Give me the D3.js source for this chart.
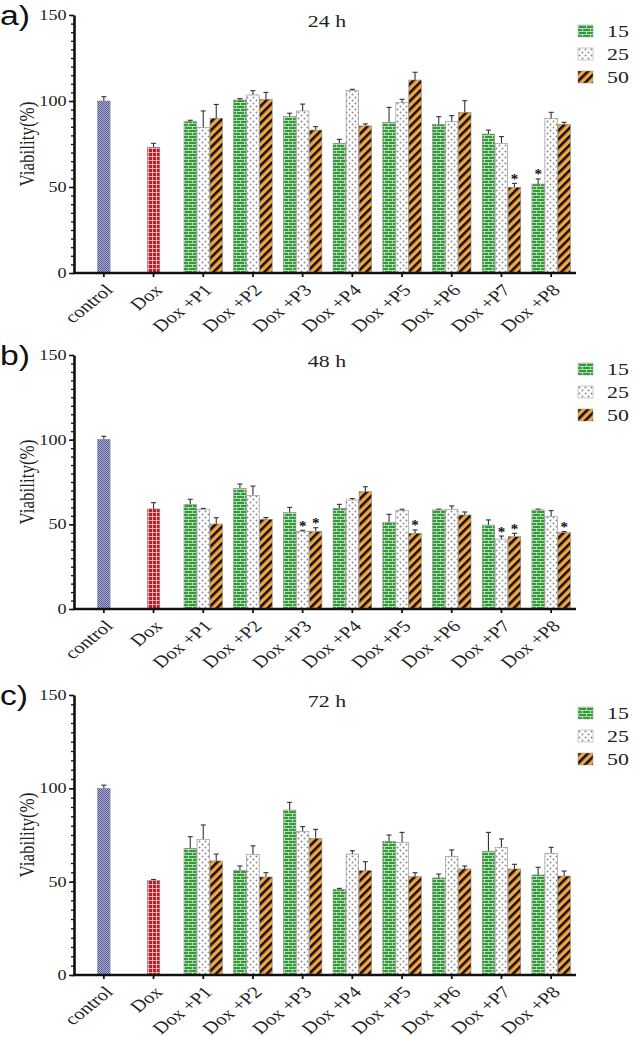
<!DOCTYPE html>
<html lang="en">
<head>
<meta charset="utf-8">
<title>viability</title>
<script src="https://cdn.jsdelivr.net/npm/d3@7"></script>
<style>
  body { margin: 0; background: #fff; }
  .axis path, .axis line { stroke: #111; }
</style>
</head>
<body>
<div id="chart"></div>
<script>

// categories and series
var categories = ["control", "Dox", "Dox +P1", "Dox +P2", "Dox +P3", "Dox +P4", "Dox +P5", "Dox +P6", "Dox +P7", "Dox +P8"];
var singles = ["control", "Dox"];
var groups = ["Dox +P1", "Dox +P2", "Dox +P3", "Dox +P4", "Dox +P5", "Dox +P6", "Dox +P7", "Dox +P8"];
var concentrations = ["15", "25", "50"];
var yTicks = [0, 50, 100, 150];

// 24 h
var single24 = [100, 73.1], single24Err = [2.5, 2.3];
var c15_24 = [88.0, 100.6, 90.9, 75.4, 87.6, 86.4, 80.8, 51.7];
var c15_24Err = [0.8, 0.8, 2.0, 2.3, 8.7, 4.5, 2.3, 3.0];
var c25_24 = [84.5, 103.5, 94.2, 106.0, 99.0, 88.0, 75.4, 89.9];
var c25_24Err = [9.7, 2.5, 4.0, 0.8, 2.0, 3.5, 3.9, 3.5];
var c50_24 = [90.0, 101.0, 83.1, 85.5, 112.2, 93.4, 49.8, 86.4];
var c50_24Err = [8.0, 4.0, 2.0, 1.2, 4.5, 6.8, 2.3, 1.2];
var stars24 = [["Dox +P7", "50"], ["Dox +P8", "15"]];

// 48 h
var single48 = [100.2, 59.1], single48Err = [1.8, 3.7];
var c15_48 = [61.8, 71.1, 56.9, 59.5, 51.2, 58.5, 49.6, 58.5];
var c15_48Err = [3.0, 2.7, 3.1, 2.3, 4.7, 0.5, 3.0, 0.5];
var c25_48 = [58.9, 67.1, 45.7, 64.4, 58.1, 58.9, 41.3, 54.5];
var c25_48Err = [0.5, 5.5, 0.8, 0.8, 0.8, 2.0, 1.8, 3.6];
var c50_48 = [50.2, 53.0, 45.7, 69.3, 44.7, 55.5, 42.7, 45.1];
var c50_48Err = [3.7, 1.0, 2.3, 2.9, 2.0, 1.8, 2.0, 0.6];
var stars48 = [["Dox +P3", "25"], ["Dox +P3", "50"], ["Dox +P5", "50"], ["Dox +P7", "25"], ["Dox +P7", "50"], ["Dox +P8", "50"]];

// 72 h
var single72 = [100, 50.7], single72Err = [1.7, 0.5];
var c15_72 = [67.9, 56.1, 88.4, 45.9, 71.6, 52.0, 66.3, 53.6];
var c15_72Err = [6.2, 2.3, 4.1, 0.5, 3.4, 2.1, 10.1, 4.1];
var c25_72 = [72.7, 64.6, 76.8, 64.8, 71.1, 63.4, 68.4, 65.2];
var c25_72Err = [7.7, 4.6, 2.7, 1.8, 5.3, 3.6, 4.5, 3.2];
var c50_72 = [61.1, 52.5, 73.2, 55.9, 52.7, 56.8, 56.8, 53.0];
var c50_72Err = [3.7, 2.3, 4.8, 4.8, 2.1, 1.6, 2.5, 2.7];
var stars72 = [];

var width = 635, height = 1037;
var sx = 1.25;   // the source figure is stretched sideways
var serif = "'Liberation Serif', 'Times New Roman', Times, serif";

var svg = d3.select("#chart").append("svg")
    .attr("width", width)
    .attr("height", height);

// fill patterns
var defs = svg.append("defs");

var pCtrl = defs.append("pattern").attr("id", "pCtrl")
    .attr("patternUnits", "userSpaceOnUse").attr("width", 2).attr("height", 2);
pCtrl.append("rect").attr("width", 2).attr("height", 2).attr("fill", "#a9abd6");
pCtrl.append("rect").attr("width", 1).attr("height", 1).attr("fill", "#5b5e93");
pCtrl.append("rect").attr("x", 1).attr("y", 1).attr("width", 1).attr("height", 1).attr("fill", "#5b5e93");

var pDox = defs.append("pattern").attr("id", "pDox")
    .attr("patternUnits", "userSpaceOnUse").attr("width", 4).attr("height", 4);
pDox.append("rect").attr("width", 4).attr("height", 4).attr("fill", "#b51d29");
pDox.append("rect").attr("width", 4).attr("height", 0.8).attr("fill", "#f2c9cb");
pDox.append("rect").attr("width", 0.8).attr("height", 4).attr("fill", "#f2c9cb");

var p15 = defs.append("pattern").attr("id", "p15")
    .attr("patternUnits", "userSpaceOnUse").attr("width", 8).attr("height", 6);
p15.append("rect").attr("width", 8).attr("height", 6).attr("fill", "#35993a");
p15.append("rect").attr("width", 8).attr("height", 0.8).attr("fill", "#cdeccd");
p15.append("rect").attr("y", 3).attr("width", 8).attr("height", 0.8).attr("fill", "#cdeccd");
p15.append("rect").attr("x", 0).attr("width", 0.8).attr("height", 3).attr("fill", "#cdeccd");
p15.append("rect").attr("x", 4).attr("y", 3).attr("width", 0.8).attr("height", 3).attr("fill", "#cdeccd");

var p25 = defs.append("pattern").attr("id", "p25")
    .attr("patternUnits", "userSpaceOnUse").attr("width", 6).attr("height", 6);
p25.append("rect").attr("width", 6).attr("height", 6).attr("fill", "#fff");
p25.append("circle").attr("cx", 1.5).attr("cy", 1.5).attr("r", 1).attr("fill", "#8c8c8c");
p25.append("circle").attr("cx", 4.5).attr("cy", 4.5).attr("r", 1).attr("fill", "#8c8c8c");

var p50 = defs.append("pattern").attr("id", "p50")
    .attr("patternUnits", "userSpaceOnUse").attr("width", 6).attr("height", 6)
    .attr("patternTransform", "rotate(45)");
p50.append("rect").attr("width", 6).attr("height", 6).attr("fill", "#f5a443");
p50.append("rect").attr("width", 2.6).attr("height", 6).attr("fill", "#111");

var seriesFill = d3.scaleOrdinal().domain(concentrations).range(["url(#p15)", "url(#p25)", "url(#p50)"]);
var singleFill = d3.scaleOrdinal().domain(singles).range(["url(#pCtrl)", "url(#pDox)"]);

// shared x scales
var x = d3.scaleBand().domain(categories).range([79, 576]);
var xIn = d3.scaleBand().domain(concentrations).range([0, 38.5]).paddingInner(0.04);
var barW = xIn.bandwidth();

var panels = [
  { label: "a)", title: "24 h", top: 15, bottom: 273, single: single24, singleErr: single24Err,
    series: [[c15_24, c15_24Err], [c25_24, c25_24Err], [c50_24, c50_24Err]], stars: stars24, legendTop: 25 },
  { label: "b)", title: "48 h", top: 355, bottom: 609, single: single48, singleErr: single48Err,
    series: [[c15_48, c15_48Err], [c25_48, c25_48Err], [c50_48, c50_48Err]], stars: stars48, legendTop: 363 },
  { label: "c)", title: "72 h", top: 695, bottom: 975, single: single72, singleErr: single72Err,
    series: [[c15_72, c15_72Err], [c25_72, c25_72Err], [c50_72, c50_72Err]], stars: stars72, legendTop: 707 }
];

panels.forEach(drawPanel);

function stretched(sel, px, py, rot) {
  sel.attr("x", 0).attr("y", 0)
    .attr("transform", "translate(" + px + "," + py + ") scale(" + sx + ",1)" + (rot ? " rotate(" + rot + ")" : ""));
}

function drawPanel(p) {
  var g = svg.append("g");
  var y = d3.scaleLinear().domain([0, 150]).range([p.bottom, p.top]);

  // flatten bars
  var bars = [];
  singles.forEach(function(c, i) {
    bars.push({ cat: c, key: null, v: p.single[i], e: p.singleErr[i],
      x: x(c) + x.bandwidth() / 2 - barW / 2, fill: singleFill(c) });
  });
  groups.forEach(function(c, i) {
    concentrations.forEach(function(k, j) {
      bars.push({ cat: c, key: k, v: p.series[j][0][i], e: p.series[j][1][i],
        x: x(c) + x.bandwidth() / 2 - xIn.range()[1] / 2 + xIn(k), fill: seriesFill(k) });
    });
  });

  // error bars (upper only)
  var eb = g.append("g").selectAll("g").data(bars).enter().append("g")
    .attr("stroke", "#333").attr("stroke-width", 1.1);
  eb.append("line")
    .attr("x1", function(d) { return d.x + barW / 2; })
    .attr("x2", function(d) { return d.x + barW / 2; })
    .attr("y1", function(d) { return y(d.v); })
    .attr("y2", function(d) { return y(d.v + d.e); });
  eb.append("line")
    .attr("x1", function(d) { return d.x + barW / 2 - 2.5; })
    .attr("x2", function(d) { return d.x + barW / 2 + 2.5; })
    .attr("y1", function(d) { return y(d.v + d.e); })
    .attr("y2", function(d) { return y(d.v + d.e); });

  g.append("g").selectAll("rect").data(bars).enter().append("rect")
    .attr("x", function(d) { return d.x; })
    .attr("y", function(d) { return y(d.v); })
    .attr("width", barW)
    .attr("height", function(d) { return y(0) - y(d.v); })
    .attr("fill", function(d) { return d.fill; })
    .attr("stroke", "#8a8a8a")
    .attr("stroke-width", 0.6);

  // significance stars
  g.append("g").selectAll("text").data(p.stars).enter().append("text")
    .attr("text-anchor", "middle")
    .style("font-family", serif)
    .style("font-size", "15px")
    .style("font-weight", "bold")
    .style("fill", "#111")
    .text("*")
    .each(function(s) {
      var b = bars.filter(function(d) { return d.cat === s[0] && d.key === s[1]; })[0];
      d3.select(this).attr("x", b.x + barW / 2).attr("y", y(b.v + b.e) + 0.5);
    });

  // y axis: minor then major ticks
  g.append("g").attr("class", "axis")
    .attr("transform", "translate(74,0)")
    .call(d3.axisLeft(y).tickValues(d3.range(0, 151, 5)).tickSize(3).tickFormat(""))
    .call(function(a) { a.select(".domain").remove(); a.selectAll("line").attr("stroke-width", 1.3); });

  var ya = g.append("g").attr("class", "axis")
    .attr("transform", "translate(74,0)")
    .call(d3.axisLeft(y).tickValues(yTicks).tickSize(5).tickSizeOuter(0).tickPadding(1));
  ya.select(".domain").attr("stroke-width", 2.6);
  ya.selectAll("line").attr("stroke-width", 1.5);
  ya.selectAll("text")
    .style("font-family", serif)
    .style("font-size", "14.5px")
    .attr("fill", "#222")
    .attr("transform", "scale(" + sx + ",1)");

  // x axis
  var xa = g.append("g").attr("class", "axis")
    .attr("transform", "translate(0," + y(0) + ")")
    .call(d3.axisBottom(x).tickSize(4).tickSizeOuter(0));
  xa.select(".domain").remove();
  xa.selectAll("line").attr("stroke-width", 1.8);
  xa.selectAll("text")
    .style("font-family", serif)
    .style("font-size", "16.5px")
    .attr("fill", "#222")
    .attr("text-anchor", "end")
    .attr("dy", "0.35em")
    .each(function() { stretched(d3.select(this), 5, 14, -45); });
  g.append("line")
    .attr("x1", 73).attr("x2", x.range()[1])
    .attr("y1", y(0)).attr("y2", y(0))
    .attr("stroke", "#111").attr("stroke-width", 2.6);

  // y label
  g.append("text")
    .attr("text-anchor", "middle")
    .style("font-family", serif)
    .style("font-size", "17px")
    .style("fill", "#222")
    .text("Viability(%)")
    .call(stretched, 34, (p.top + p.bottom) / 2, -90);

  // title
  g.append("text")
    .attr("text-anchor", "middle")
    .style("font-family", serif)
    .style("font-size", "17.5px")
    .style("fill", "#222")
    .text(p.title)
    .call(stretched, 327, p.top + 12);

  // panel label
  g.append("text")
    .style("font-family", "'Liberation Sans', Arial, sans-serif")
    .style("font-size", "27px")
    .style("fill", "#111")
    .text(p.label)
    .call(stretched, 0, p.top + 10);

  // legend
  var lg = g.append("g").selectAll("g").data(concentrations).enter().append("g")
    .attr("transform", function(d, i) { return "translate(578," + (p.legendTop + i * 23) + ")"; });
  lg.append("rect")
    .attr("width", 15).attr("height", 12)
    .attr("fill", function(d) { return seriesFill(d); })
    .attr("stroke", "#999").attr("stroke-width", 0.5);
  lg.append("text")
    .style("font-family", serif)
    .style("font-size", "17.5px")
    .style("fill", "#222")
    .text(function(d) { return d; })
    .each(function() { stretched(d3.select(this), 29, 12); });
}

</script>
</body>
</html>
